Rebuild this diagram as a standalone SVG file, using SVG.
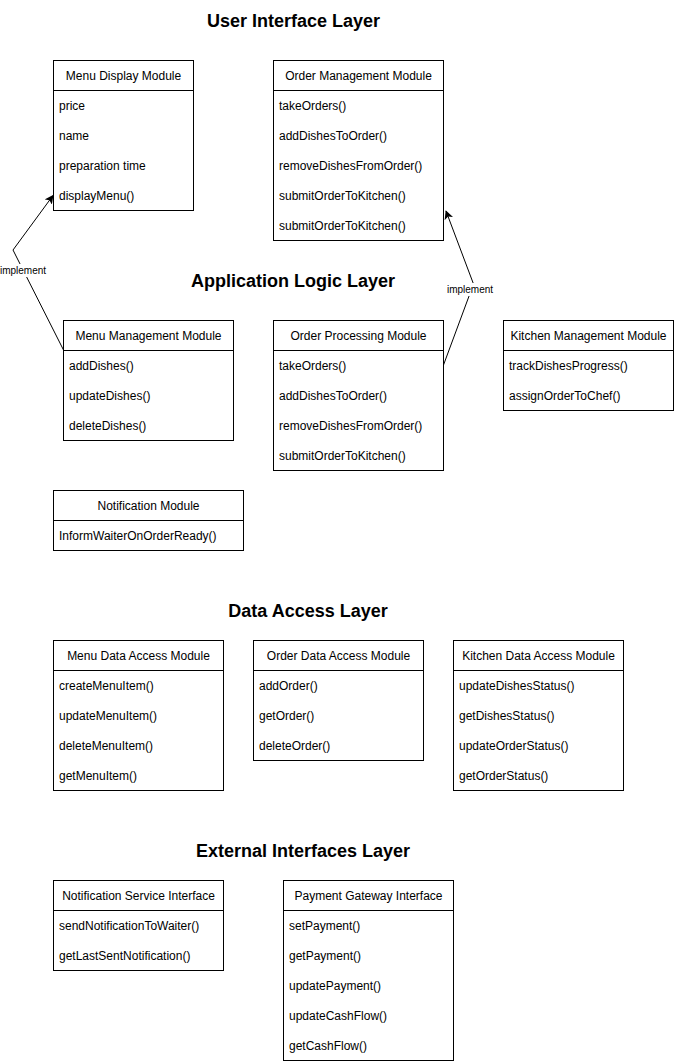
<svg xmlns="http://www.w3.org/2000/svg" width="674" height="1061" viewBox="0 0 674 1061">
<style>
.box{fill:#fff;stroke:#000;stroke-width:1}
.ln{stroke:#000;stroke-width:1;fill:none}
.h{font-family:"Liberation Sans",Arial,sans-serif;font-size:12px;text-anchor:middle;dominant-baseline:central;fill:#000}
.r{font-family:"Liberation Sans",Arial,sans-serif;font-size:12px;dominant-baseline:central;fill:#000}
.t{font-family:"Liberation Sans",Arial,sans-serif;font-size:18px;font-weight:bold;text-anchor:middle;dominant-baseline:central;fill:#000}
.lb{font-family:"Liberation Sans",Arial,sans-serif;font-size:10px;text-anchor:middle;dominant-baseline:central;fill:#000}
</style>
<defs>
<marker id="arr" viewBox="0 0 10 10" refX="9" refY="5" markerWidth="9" markerHeight="9" orient="auto" markerUnits="userSpaceOnUse">
<path d="M0,0 L10,5 L0,10 L2.5,5 Z" fill="#000"/>
</marker>
</defs>
<rect width="674" height="1061" fill="#fff"/>
<g id="titles">
<text class="t" x="293.5" y="20.5">User Interface Layer</text>
<text class="t" x="293" y="280.5">Application Logic Layer</text>
<text class="t" x="308" y="610.5">Data Access Layer</text>
<text class="t" x="303" y="850.5">External Interfaces Layer</text>
</g>
<g id="menu-display">
<rect class="box" x="53.5" y="60.5" width="140" height="150"/>
<line class="ln" x1="53.5" y1="90.5" x2="193.5" y2="90.5"/>
<text class="h" x="123.5" y="75.5">Menu Display Module</text>
<text class="r" x="59" y="105.5">price</text>
<text class="r" x="59" y="135.5">name</text>
<text class="r" x="59" y="165.5">preparation time</text>
<text class="r" x="59" y="195.5">displayMenu()</text>
</g>
<g id="order-management">
<rect class="box" x="273.5" y="60.5" width="170" height="180"/>
<line class="ln" x1="273.5" y1="90.5" x2="443.5" y2="90.5"/>
<text class="h" x="358.5" y="75.5">Order Management Module</text>
<text class="r" x="279" y="105.5">takeOrders()</text>
<text class="r" x="279" y="135.5">addDishesToOrder()</text>
<text class="r" x="279" y="165.5">removeDishesFromOrder()</text>
<text class="r" x="279" y="195.5">submitOrderToKitchen()</text>
<text class="r" x="279" y="225.5">submitOrderToKitchen()</text>
</g>
<g id="menu-management">
<rect class="box" x="63.5" y="320.5" width="170" height="120"/>
<line class="ln" x1="63.5" y1="350.5" x2="233.5" y2="350.5"/>
<text class="h" x="148.5" y="335.5">Menu Management Module</text>
<text class="r" x="69" y="365.5">addDishes()</text>
<text class="r" x="69" y="395.5">updateDishes()</text>
<text class="r" x="69" y="425.5">deleteDishes()</text>
</g>
<g id="order-processing">
<rect class="box" x="273.5" y="320.5" width="170" height="150"/>
<line class="ln" x1="273.5" y1="350.5" x2="443.5" y2="350.5"/>
<text class="h" x="358.5" y="335.5">Order Processing Module</text>
<text class="r" x="279" y="365.5">takeOrders()</text>
<text class="r" x="279" y="395.5">addDishesToOrder()</text>
<text class="r" x="279" y="425.5">removeDishesFromOrder()</text>
<text class="r" x="279" y="455.5">submitOrderToKitchen()</text>
</g>
<g id="kitchen-management">
<rect class="box" x="503.5" y="320.5" width="170" height="90"/>
<line class="ln" x1="503.5" y1="350.5" x2="673.5" y2="350.5"/>
<text class="h" x="588.5" y="335.5">Kitchen Management Module</text>
<text class="r" x="509" y="365.5">trackDishesProgress()</text>
<text class="r" x="509" y="395.5">assignOrderToChef()</text>
</g>
<g id="notification">
<rect class="box" x="53.5" y="490.5" width="190" height="60"/>
<line class="ln" x1="53.5" y1="520.5" x2="243.5" y2="520.5"/>
<text class="h" x="148.5" y="505.5">Notification Module</text>
<text class="r" x="59" y="535.5">InformWaiterOnOrderReady()</text>
</g>
<g id="menu-data">
<rect class="box" x="53.5" y="640.5" width="170" height="150"/>
<line class="ln" x1="53.5" y1="670.5" x2="223.5" y2="670.5"/>
<text class="h" x="138.5" y="655.5">Menu Data Access Module</text>
<text class="r" x="59" y="685.5">createMenuItem()</text>
<text class="r" x="59" y="715.5">updateMenuItem()</text>
<text class="r" x="59" y="745.5">deleteMenuItem()</text>
<text class="r" x="59" y="775.5">getMenuItem()</text>
</g>
<g id="order-data">
<rect class="box" x="253.5" y="640.5" width="170" height="120"/>
<line class="ln" x1="253.5" y1="670.5" x2="423.5" y2="670.5"/>
<text class="h" x="338.5" y="655.5">Order Data Access Module</text>
<text class="r" x="259" y="685.5">addOrder()</text>
<text class="r" x="259" y="715.5">getOrder()</text>
<text class="r" x="259" y="745.5">deleteOrder()</text>
</g>
<g id="kitchen-data">
<rect class="box" x="453.5" y="640.5" width="170" height="150"/>
<line class="ln" x1="453.5" y1="670.5" x2="623.5" y2="670.5"/>
<text class="h" x="538.5" y="655.5">Kitchen Data Access Module</text>
<text class="r" x="459" y="685.5">updateDishesStatus()</text>
<text class="r" x="459" y="715.5">getDishesStatus()</text>
<text class="r" x="459" y="745.5">updateOrderStatus()</text>
<text class="r" x="459" y="775.5">getOrderStatus()</text>
</g>
<g id="notification-service">
<rect class="box" x="53.5" y="880.5" width="170" height="90"/>
<line class="ln" x1="53.5" y1="910.5" x2="223.5" y2="910.5"/>
<text class="h" x="138.5" y="895.5">Notification Service Interface</text>
<text class="r" x="59" y="925.5">sendNotificationToWaiter()</text>
<text class="r" x="59" y="955.5">getLastSentNotification()</text>
</g>
<g id="payment-gateway">
<rect class="box" x="283.5" y="880.5" width="170" height="180"/>
<line class="ln" x1="283.5" y1="910.5" x2="453.5" y2="910.5"/>
<text class="h" x="368.5" y="895.5">Payment Gateway Interface</text>
<text class="r" x="289" y="925.5">setPayment()</text>
<text class="r" x="289" y="955.5">getPayment()</text>
<text class="r" x="289" y="985.5">updatePayment()</text>
<text class="r" x="289" y="1015.5">updateCashFlow()</text>
<text class="r" x="289" y="1045.5">getCashFlow()</text>
</g>
<g id="connectors">
<polyline class="ln" points="63.5,350 13,250 53,195.5" marker-end="url(#arr)"/>
<rect x="0" y="264" width="47" height="13" fill="#fff"/>
<text class="lb" x="23" y="270.5">implement</text>
<polyline class="ln" points="443.5,365 473.5,284 446,211" marker-end="url(#arr)"/>
<rect x="446" y="283" width="48" height="13" fill="#fff"/>
<text class="lb" x="470" y="289.5">implement</text>
</g>
</svg>
